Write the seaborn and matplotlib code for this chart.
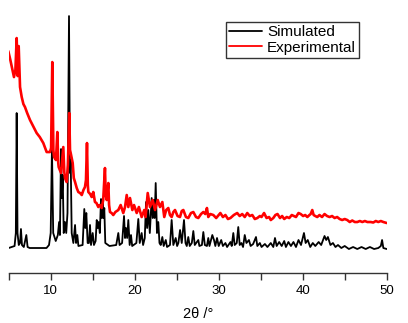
import pandas as pd
import matplotlib
matplotlib.use("Agg")
import matplotlib.pyplot as plt
import seaborn as sns
from matplotlib.ticker import MultipleLocator

# Simulated pattern (2theta / intensity, a.u.)
sim_tth = [5.0, 5.7, 5.85, 5.95, 6.05, 6.2, 6.35, 6.46, 6.58, 6.8, 7.1, 7.25, 7.5,
           9.5, 9.8, 10.0, 10.15, 10.3, 10.6, 10.85, 11.0, 11.1, 11.23, 11.33, 11.43,
           11.55, 11.7, 11.85, 12.0, 12.18, 12.3, 12.38, 12.5, 12.7, 12.9, 13.02, 13.17,
           13.3, 13.8, 14.0, 14.12, 14.24, 14.4, 14.55, 14.68, 14.8, 15.0, 15.15, 15.35,
           15.48, 15.6, 15.7, 15.85, 15.99, 16.1, 16.19, 16.3, 16.38, 16.5, 17.0, 17.8,
           18.05, 18.2, 18.5, 18.73, 18.85, 18.96, 19.1, 19.24, 19.4, 19.56, 19.7, 20.2,
           20.43, 20.6, 20.83, 21.0, 21.2, 21.35, 21.48, 21.62, 21.8, 22.02, 22.15, 22.26,
           22.38, 22.5, 22.65, 22.81, 22.95, 23.1, 23.29, 23.45, 23.7, 23.85, 24.2, 24.4,
           24.6, 24.88, 25.05, 25.2, 25.4, 25.6, 25.87, 26.05, 26.2, 26.38, 26.55, 26.8,
           26.98, 27.15, 27.57, 27.7, 28.0, 28.17, 28.35, 28.6, 28.76, 28.9, 29.24, 29.44,
           29.6, 29.8, 30.0, 30.3, 30.5, 30.8, 31.0, 31.4, 31.55, 31.74, 31.9, 32.15,
           32.33, 32.5, 32.7, 32.9, 33.1, 33.3, 33.6, 33.8, 34.1, 34.44, 34.6, 34.9,
           35.1, 35.5, 35.8, 36.2, 36.5, 36.7, 36.9, 37.2, 37.5, 37.8, 38.0, 38.3,
           38.6, 38.9, 39.2, 39.5, 39.8, 40.15, 40.35, 40.6, 40.9, 41.2, 41.5, 41.9,
           42.2, 42.6, 42.8, 43.0, 43.3, 43.6, 43.9, 44.2, 44.6, 45.0, 45.5, 46.0,
           46.5, 47.0, 47.5, 48.0, 48.5, 49.0, 49.3, 49.45, 49.6, 50.0]
sim_int = [25, 27, 40, 160, 40, 28, 30, 44, 28, 26, 38, 26, 25,
           25, 28, 40, 125, 40, 32, 38, 51, 38, 124, 75, 98,
           40, 51, 40, 60, 257, 100, 113, 40, 30, 48, 30, 38,
           27, 28, 64, 45, 60, 30, 30, 48, 28, 40, 28, 32,
           53, 45, 51, 40, 74, 55, 73, 55, 65, 30, 27, 28,
           40, 28, 30, 57, 35, 45, 35, 53, 28, 38, 27, 30,
           54, 30, 40, 28, 35, 71, 45, 63, 40, 75, 55, 73,
           55, 90, 40, 51, 30, 28, 36, 27, 33, 26, 28, 53,
           28, 35, 27, 30, 43, 30, 53, 30, 27, 36, 27, 30,
           42, 28, 33, 27, 28, 41, 28, 27, 35, 27, 38, 33,
           27, 35, 27, 33, 27, 30, 26, 31, 27, 40, 28, 30,
           46, 28, 30, 26, 38, 30, 33, 27, 29, 36, 27, 30,
           26, 29, 26, 30, 26, 35, 27, 31, 27, 32, 26, 31,
           27, 31, 26, 33, 28, 40, 30, 33, 26, 30, 27, 31,
           28, 37, 33, 36, 28, 30, 26, 28, 25, 27, 24, 26,
           24, 26, 24, 26, 24, 25, 27, 33, 25, 24]

# Experimental pattern
exp_tth = [4.95, 5.2, 5.45, 5.63, 5.8, 5.95, 6.07, 6.19, 6.35, 6.55, 6.75, 6.94, 7.2,
           7.54, 7.9, 8.33, 8.7, 9.12, 9.52, 9.92, 10.05, 10.19, 10.32, 10.4, 10.63,
           10.79, 10.9, 10.95, 11.23, 11.5, 11.62, 11.7, 11.9, 12.05, 12.21, 12.3, 12.38,
           12.62, 12.75, 12.9, 13.1, 13.29, 13.5, 13.7, 13.9, 14.08, 14.2, 14.32, 14.42,
           14.48, 14.7, 14.88, 15.07, 15.27, 15.45, 15.67, 15.85, 16.07, 16.25, 16.46, 16.55,
           16.67, 16.86, 16.95, 17.06, 17.25, 17.45, 17.7, 18.05, 18.33, 18.64, 18.85, 19.05,
           19.24, 19.44, 19.72, 19.92, 20.24, 20.5, 20.83, 21.14, 21.3, 21.55, 21.82, 22.14,
           22.42, 22.74, 23.01, 23.29, 23.52, 23.75, 24.0, 24.2, 24.4, 24.6, 24.8, 25.1,
           25.39, 25.6, 25.79, 26.1, 26.38, 26.7, 26.98, 27.3, 27.57, 27.9, 28.17, 28.4,
           28.6, 28.76, 29.0, 29.36, 29.7, 30.0, 30.2, 30.5, 30.8, 31.1, 31.4, 31.8,
           32.2, 32.5, 32.8, 33.1, 33.4, 33.7, 34.0, 34.3, 34.6, 34.9, 35.1, 35.4,
           35.7, 36.0, 36.2, 36.5, 36.75, 37.0, 37.3, 37.55, 37.8, 38.1, 38.4, 38.7,
           38.96, 39.2, 39.5, 39.76, 40.05, 40.3, 40.55, 40.8, 40.95, 41.14, 41.3, 41.5,
           41.73, 42.0, 42.3, 42.6, 42.9, 43.2, 43.5, 43.8, 44.1, 44.4, 44.7, 45.0,
           45.3, 45.6, 45.9, 46.2, 46.5, 46.8, 47.1, 47.4, 47.7, 48.1, 48.4, 48.7,
           49.0, 49.3, 49.6, 50.0]
exp_int = [222, 213, 203, 196, 203, 235, 197, 227, 186, 176, 169, 166, 160,
           153, 147, 140, 136, 130, 121, 121, 125, 211, 123, 116, 113,
           141, 110, 106, 100, 126, 101, 95, 91, 108, 160, 123, 120,
           110, 95, 91, 85, 81, 80, 78, 83, 86, 93, 130, 88,
           81, 79, 76, 81, 71, 70, 66, 68, 65, 73, 105, 78,
           73, 90, 68, 61, 60, 58, 61, 63, 68, 60, 66, 78,
           66, 75, 63, 68, 60, 66, 56, 63, 56, 80, 66, 73,
           63, 73, 66, 71, 56, 63, 65, 58, 56, 61, 63, 57,
           56, 62, 63, 56, 55, 60, 61, 56, 55, 59, 61, 59,
           65, 56, 59, 58, 55, 58, 60, 56, 58, 54, 55, 58,
           60, 57, 59, 56, 60, 57, 58, 54, 55, 57, 56, 60,
           55, 56, 53, 55, 58, 59, 55, 57, 54, 56, 55, 58,
           57, 56, 60, 59, 57, 58, 56, 58, 59, 63, 58, 57,
           56, 58, 56, 59, 57, 56, 57, 55, 56, 54, 53, 54,
           53, 51, 52.5, 51, 51, 52, 51, 52, 51, 51, 50.5, 52,
           51, 52, 51, 50]

series_names = ["Simulated", "Experimental"]
series_colors = ["black", "red"]

df = pd.concat([
    pd.DataFrame({"tth": sim_tth, "intensity": sim_int, "pattern": series_names[0]}),
    pd.DataFrame({"tth": exp_tth, "intensity": exp_int, "pattern": series_names[1]}),
])

sns.set_style("white")
plt.rcParams["font.family"] = ["Liberation Sans", "DejaVu Sans"]
plt.rcParams["text.color"] = "black"
plt.rcParams["xtick.color"] = "black"
plt.rcParams["axes.labelcolor"] = "black"

fig = plt.figure(figsize=(4.08, 3.23), dpi=100)
ax = fig.add_axes([0.0213, 0.1548, 0.9265, 0.814])

sns.lineplot(data=df, x="tth", y="intensity", hue="pattern",
             palette=dict(zip(series_names, series_colors)),
             estimator=None, sort=False, linewidth=1.3, ax=ax)
ax.lines[1].set_linewidth(1.9)

ax.set_xlim(5, 50)
ax.set_ylim(0, 263)
ax.xaxis.set_major_locator(MultipleLocator(10))
ax.xaxis.set_minor_locator(MultipleLocator(5))
ax.tick_params(axis="x", which="both", direction="out", length=5, width=1,
               color="#333333", labelcolor="black", labelsize=9.5, pad=4, bottom=True)
ax.set_yticks([])
for side in ["top", "left", "right"]:
    ax.spines[side].set_visible(False)
ax.spines["bottom"].set_color("#333333")
ax.spines["bottom"].set_linewidth(1)
ax.set_xlabel("2θ /°", fontsize=10.5, labelpad=7, color="black")
ax.set_ylabel("")

leg = ax.legend(loc="upper left", bbox_to_anchor=(0.553, 0.932),
                bbox_transform=fig.transFigure, fontsize=11, frameon=True,
                fancybox=False, borderaxespad=0, handlelength=2.2,
                borderpad=0.2, labelspacing=0.1, handletextpad=0.3)
leg.get_frame().set_edgecolor("black")
leg.get_frame().set_linewidth(1)
for text in leg.get_texts():
    text.set_color("black")
for line in leg.get_lines():
    line.set_linewidth(1.3)

fig.savefig("out.png", dpi=100)
